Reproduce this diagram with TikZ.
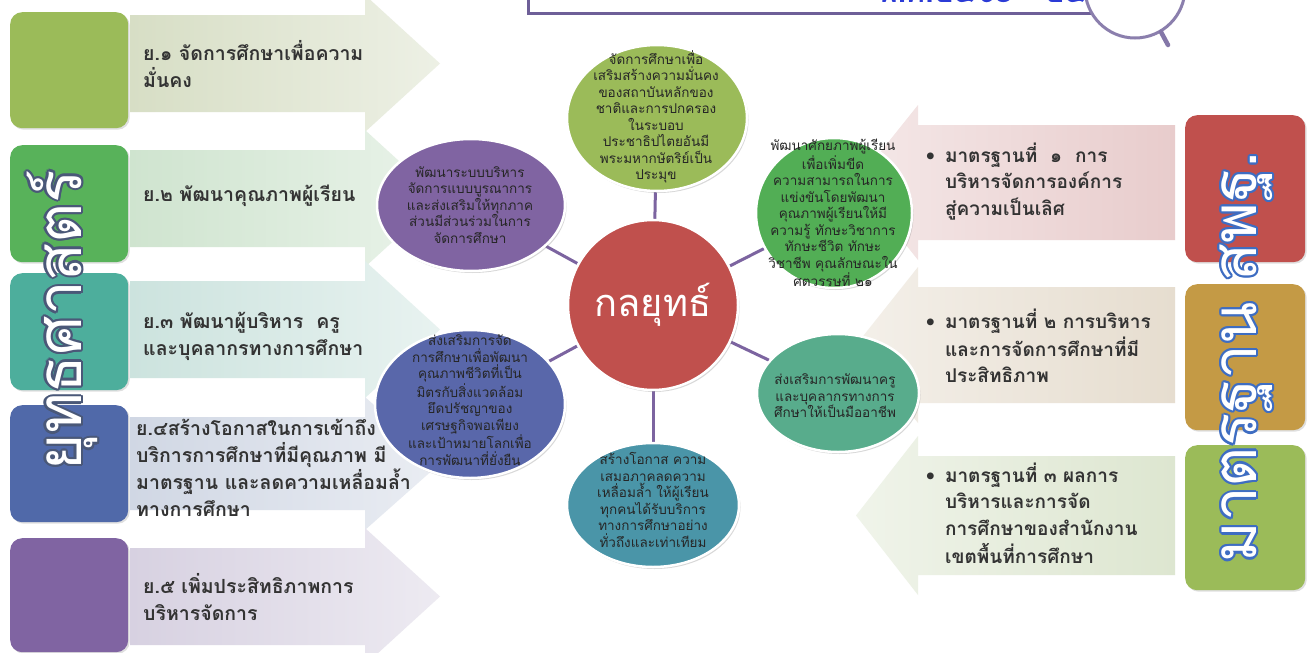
\documentclass[tikz,border=0pt]{standalone}
\usepackage{fontspec}
\setmainfont[Script=Thai]{Loma}
\newfontfamily\thai[Script=Thai]{Loma}
\usetikzlibrary{calc,shapes.geometric,shadows}
\pgfdeclarelayer{arrowlayer}
\pgfdeclarelayer{linelayer}
\pgfsetlayers{arrowlayer,linelayer,main}
\definecolor{sqA}{HTML}{9BBB59}
\definecolor{sqB}{HTML}{58B25A}
\definecolor{sqC}{HTML}{4DAE9C}
\definecolor{sqD}{HTML}{5069A9}
\definecolor{sqE}{HTML}{8064A2}
\definecolor{sqR}{HTML}{C0504D}
\definecolor{sqT}{HTML}{C49A45}
\definecolor{arA}{HTML}{D7DEC5}
\definecolor{arB}{HTML}{CFE4CF}
\definecolor{arC}{HTML}{CCE3DE}
\definecolor{arD}{HTML}{D0D7E4}
\definecolor{arE}{HTML}{D7D1E1}
\definecolor{arR}{HTML}{E8CCCC}
\definecolor{arT}{HTML}{E6DDCF}
\definecolor{arG}{HTML}{DDE6D0}
\definecolor{cTop}{HTML}{9BBB59}
\definecolor{cUL}{HTML}{8064A2}
\definecolor{cUR}{HTML}{52AE55}
\definecolor{cLL}{HTML}{5967AA}
\definecolor{cLR}{HTML}{58AC8C}
\definecolor{cBot}{HTML}{4A95A8}
\definecolor{hubred}{HTML}{C0504D}
\definecolor{connc}{HTML}{7C64A0}
\definecolor{framec}{HTML}{6E5F98}
\definecolor{yearblue}{HTML}{2B3BD6}
\definecolor{outL}{HTML}{4A5878}
\definecolor{outR}{HTML}{3E6DC2}
\newcommand\outlinedtext[5]{%
  \foreach \ang in {0,30,...,330}{\node[vtext, text=#3] at ($(#1)+(\ang:2.2pt)$) {#5};}
  \node[vtext, text=#4] (#2) at (#1) {#5};}
\begin{document}
\begin{tikzpicture}[x=1pt,y=-1pt,
  sq/.style={rounded corners=12pt, inner sep=0pt, minimum width=118pt, anchor=north west,
    drop shadow={opacity=0.25, shadow xshift=1.5pt, shadow yshift=-1.5pt}},
  bub/.style={ellipse, draw=white, line width=2.5pt, inner sep=0pt,
    drop shadow={opacity=0.3, shadow xshift=1.5pt, shadow yshift=-2pt}},
  ctext/.style={font=\fontsize{13.5}{16.5}\selectfont, align=center, text=black!85, inner sep=0pt},
  ltext/.style={font=\fontsize{19.5}{27}\selectfont\bfseries, align=left, anchor=west, text=black!80, inner sep=0pt},
  rtext/.style={font=\fontsize{19}{26.5}\selectfont\bfseries, anchor=west, text=black!80, inner sep=0pt},
  vtext/.style={rotate=90, font=\fontsize{62}{70}\selectfont, inner sep=0pt},
  conn/.style={draw=connc, line width=3pt}]
\clip (0,0) rectangle (1312,653);
\begin{pgfonlayer}{arrowlayer}
\fill[white] (0,0) rectangle (1312,653);
\end{pgfonlayer}

% top banner
\draw[framec, line width=3pt] (528,-10) -- (528,13) -- (1100,13);
\node[anchor=base west, font=\fontsize{30}{30}\selectfont\bfseries, text=yearblue, inner sep=0pt] (yr) at (878,2) {พ.ศ.๒๕๖๑ - ๒๕๖๔};
\draw[framec!80, line width=3pt, fill=white] (1135,-12) circle (50pt);
\draw[framec!85, line width=4.5pt, line cap=round] (1161,32) -- (1168,45);

% pale arrows
\begin{pgfonlayer}{arrowlayer}
\foreach \t/\b/\c in {15/112/arA,150/247/arB,281/378/arC,417/510/arD,548/645/arE}{
  \shade[left color=\c, right color=\c!45!white]
   (130,\t) -- (365,\t) -- (365,\t-20) -- (440,{(\t+\b)/2}) -- (365,\b+20) -- (365,\b) -- (130,\b) -- cycle;}
\foreach \t/\b/\c in {125/240/arR,287/403/arT,456/575/arG}{
  \shade[right color=\c, left color=\c!45!white]
   (1175,\t) -- (918,\t) -- (918,\t-20) -- (856,{(\t+\b)/2}) -- (918,\b+20) -- (918,\b) -- (1175,\b) -- cycle;}
\end{pgfonlayer}

% left squares
\node[sq, fill=sqA, minimum height=116pt] (s1) at (10,12) {};
\node[sq, fill=sqB, minimum height=117pt] (s2) at (10,145) {};
\node[sq, fill=sqC, minimum height=117pt] (s3) at (10,273) {};
\node[sq, fill=sqD, minimum height=117pt] (s4) at (10,405) {};
\node[sq, fill=sqE, minimum height=114pt] (s5) at (10,538) {};
% right squares
\node[sq, fill=sqR, minimum height=147pt, minimum width=120pt] (r1) at (1185,115) {};
\node[sq, fill=sqT, minimum height=146pt, minimum width=120pt] (r2) at (1185,284) {};
\node[sq, fill=sqA, minimum height=145pt, minimum width=120pt] (r3) at (1185,445) {};

% left arrow texts
\node[ltext] (y1) at (143,64) {ย.๑ จัดการศึกษาเพื่อความ\\มั่นคง};
\node[ltext] (y2) at (143,196) {ย.๒ พัฒนาคุณภาพผู้เรียน};
\node[ltext] (y3) at (143,336) {ย.๓ พัฒนาผู้บริหาร~~ครู\\และบุคลากรทางการศึกษา};
\node[ltext] (y4) at (136,468) {ย.๔สร้างโอกาสในการเข้าถึง\\บริการการศึกษาที่มีคุณภาพ มี\\มาตรฐาน และลดความเหลื่อมล้ำ\\ทางการศึกษา};
\node[ltext] (y5) at (143,597) {ย.๕ เพิ่มประสิทธิภาพการ\\บริหารจัดการ};

% right arrow texts
\node[rtext] (m1) at (926,183) {\begin{tabular}{@{}l@{\hspace{10pt}}l@{}}•&มาตรฐานที่~~๑~~การ\\&บริหารจัดการองค์การ\\&สู่ความเป็นเลิศ\end{tabular}};
\node[rtext] (m2) at (926,350) {\begin{tabular}{@{}l@{\hspace{10pt}}l@{}}•&มาตรฐานที่ ๒ การบริหาร\\&และการจัดการศึกษาที่มี\\&ประสิทธิภาพ\end{tabular}};
\node[rtext] (m3) at (926,517) {\begin{tabular}{@{}l@{\hspace{10pt}}l@{}}•&มาตรฐานที่ ๓ ผลการ\\&บริหารและการจัด\\&การศึกษาของสำนักงาน\\&เขตพื้นที่การศึกษา\end{tabular}};

% vertical titles
\coordinate (vl) at (62,320);
\coordinate (vr) at (1246,357);
\outlinedtext{vl}{vtl}{outL}{white}{ยุทธศาสตร์}
\outlinedtext{vr}{vtr}{outR}{white}{มาตรฐาน สพฐ.}

% bubbles
\node[bub, fill=hubred, minimum width=170pt, minimum height=170pt] (hub) at (653,305) {};
\node[bub, fill=cTop, minimum width=180pt, minimum height=146pt] (eT) at (657,118) {};
\node[bub, fill=cUL, minimum width=188pt, minimum height=132pt] (eUL) at (471,205) {};
\node[bub, fill=cUR, minimum width=156pt, minimum height=150pt] (eUR) at (834,213) {};
\node[bub, fill=cLL, minimum width=190pt, minimum height=148pt] (eLL) at (470,404) {};
\node[bub, fill=cLR, minimum width=162pt, minimum height=118pt] (eLR) at (838,393) {};
\node[bub, fill=cBot, minimum width=172pt, minimum height=124pt] (eB) at (653,505) {};

\begin{pgfonlayer}{linelayer}
\foreach \e in {eT,eUL,eUR,eLL,eLR,eB}{\draw[conn] (hub) -- (\e);}
\end{pgfonlayer}

\node[font=\fontsize{38}{40}\selectfont, text=white, inner sep=0pt] (hubt) at (653,305) {กลยุทธ์};
\node[ctext] (tT) at (656,117) {จัดการศึกษาเพื่อ\\เสริมสร้างความมั่นคง\\ของสถาบันหลักของ\\ชาติและการปกครอง\\ในระบอบ\\ประชาธิปไตยอันมี\\พระมหากษัตริย์เป็น\\ประมุข};
\node[ctext] (tUL) at (470,205) {พัฒนาระบบบริหาร\\จัดการแบบบูรณาการ\\และส่งเสริมให้ทุกภาค\\ส่วนมีส่วนร่วมในการ\\จัดการศึกษา};
\node[ctext] (tUR) at (833,213) {พัฒนาศักยภาพผู้เรียน\\เพื่อเพิ่มขีด\\ความสามารถในการ\\แข่งขันโดยพัฒนา\\คุณภาพผู้เรียนให้มี\\ความรู้ ทักษะวิชาการ\\ทักษะชีวิต ทักษะ\\วิชาชีพ คุณลักษณะใน\\ศตวรรษที่ ๒๑};
\node[ctext] (tLL) at (470,400) {ส่งเสริมการจัด\\การศึกษาเพื่อพัฒนา\\คุณภาพชีวิตที่เป็น\\มิตรกับสิ่งแวดล้อม\\ยึดปรัชญาของ\\เศรษฐกิจพอเพียง\\และเป้าหมายโลกเพื่อ\\การพัฒนาที่ยั่งยืน};
\node[ctext] (tLR) at (835,396) {ส่งเสริมการพัฒนาครู\\และบุคลากรทางการ\\ศึกษาให้เป็นมืออาชีพ};
\node[ctext] (tB) at (653,500) {สร้างโอกาส ความ\\เสมอภาคลดความ\\เหลื่อมล้ำ ให้ผู้เรียน\\ทุกคนได้รับบริการ\\ทางการศึกษาอย่าง\\ทั่วถึงและเท่าเทียม};
\end{tikzpicture}
\end{document}
